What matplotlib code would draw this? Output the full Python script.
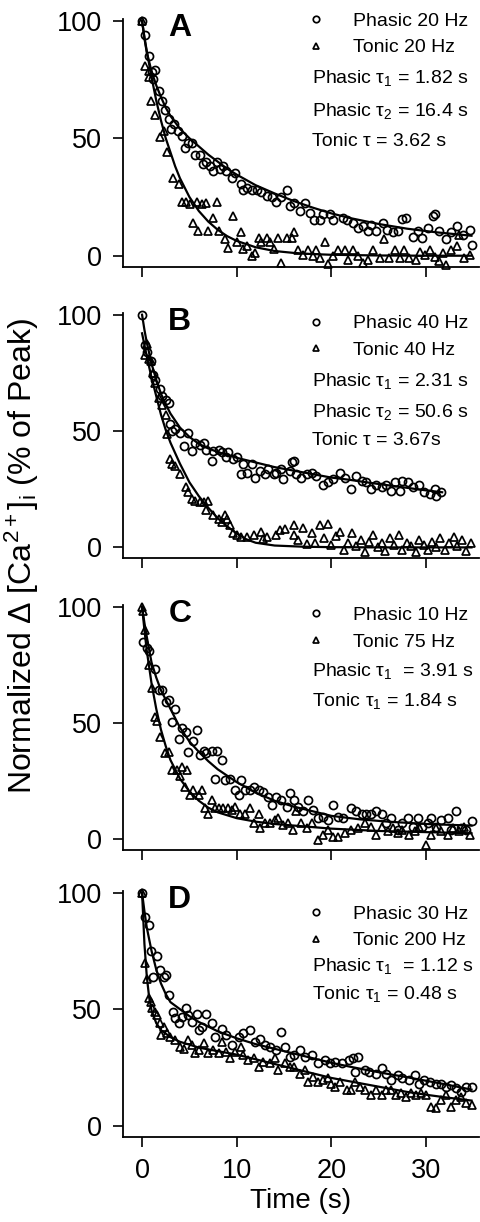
import matplotlib
matplotlib.use('Agg')
import matplotlib.pyplot as plt

plt.rcParams['font.family'] = ['Liberation Sans', 'DejaVu Sans']
plt.rcParams['mathtext.fontset'] = 'custom'
plt.rcParams['mathtext.rm'] = 'Liberation Sans'
plt.rcParams['mathtext.it'] = 'Liberation Sans:italic'
plt.rcParams['mathtext.bf'] = 'Liberation Sans:bold'

# ---------------- Panel A: phasic 20 Hz / tonic 20 Hz ----------------
phasic_t_A = [0, 0.35, 0.7, 1.0, 1.2, 1.4, 1.75, 2.1, 2.4, 2.8, 3.1, 3.4, 3.8, 4.2, 4.5, 4.9,
              5.3, 5.6, 6.1, 6.4, 6.8, 7.2, 7.5, 7.9, 8.2, 8.6, 8.9, 9.5, 9.8, 10.4, 10.7, 11.1,
              11.6, 12.1, 12.6, 13.2, 13.7, 14.2, 14.7, 15.3, 15.6, 16.1, 16.7, 17.2, 17.7, 18.2,
              18.8, 19.1, 19.8, 20.2, 21.2, 21.6, 22.3, 22.8, 23.3, 23.9, 24.2, 24.7, 25.4, 25.9,
              26.5, 27.0, 27.5, 27.9, 28.6, 29.1, 29.6, 30.2, 30.7, 30.9, 31.4, 32.1, 32.6, 33.3,
              33.9, 34.6, 34.8]
phasic_y_A = [100, 94, 85, 78, 75, 79, 70, 66, 62, 58, 54, 56, 53, 51, 46, 48,
              48, 43, 43, 39, 40, 38, 36, 40, 37, 38, 36, 33, 35, 30.5, 28, 29,
              28, 28, 27, 25.5, 25, 23, 25, 28, 21, 22.6, 19, 22.6, 18, 15,
              15, 17.6, 17.6, 15, 16, 15, 14, 12, 12.6, 10.5, 13, 10.5, 14, 11,
              10, 10.5, 15.5, 16, 8, 10.5, 7.6, 12, 17, 17.6, 10.5, 7, 10, 12.6,
              9, 11, 4.7]
tonic_t_A = [0, 0.35, 0.7, 0.75, 0.9, 1.4, 1.9, 2.3, 2.6, 3.3, 3.9, 4.2, 4.6, 5.1, 5.4, 5.8,
             5.9, 6.3, 6.8, 7.0, 7.5, 7.9, 8.1, 8.8, 9.1, 9.65, 10.0, 10.5, 10.7, 11.1, 11.6,
             11.9, 12.3, 12.6, 13.2, 13.5, 13.9, 14.4, 14.7, 15.3, 15.8, 16.1, 16.5, 17.0, 17.5,
             18.1, 18.4, 18.8, 19.3, 19.6, 20.2, 20.7, 21.4, 21.8, 22.3, 22.8, 23.3, 23.9, 24.4,
             25.1, 25.6, 26.1, 26.7, 27.2, 27.7, 28.2, 28.9, 29.4, 29.9, 30.4, 30.9, 31.4, 31.8,
             32.1, 32.6, 33.3, 33.5, 34.0, 34.6]
tonic_y_A = [100, 80.6, 78.5, 76, 66, 60, 50.6, 53, 44, 33, 30.5, 23, 23, 22, 14, 23,
             10.5, 22, 22.6, 10.5, 16, 23, 10.5, 7, 3.3, 17, 6, 10, 3, 4, 0,
             1, 7.6, 6, 7.6, 6, 3, 7.6, -3, 7.6, 7.6, 10, 2.6, 0.4, 2.6,
             -0.3, 2.6, -1, 6, -3.5, 0, 2.6, 2.6, -1.7, 2.6, 0, -3, -1.7, 2.6,
             -1, 7, -1, 2.6, -1, 2.6, -1, -1.7, 1.5, 0.5, 2.6, -0.5, -2.4, 1,
             -4, 2.6, 4, 9, -1, 0.5]
fitP_t_A = [0, 0.25, 0.5, 1, 1.5, 2, 2.5, 3, 4, 5, 6, 7, 8, 9, 10, 12, 14, 16, 18, 20, 22, 25, 28, 31, 34.8]
fitP_y_A = [100, 92.5, 86.5, 78.5, 72.5, 67.5, 63, 59.5, 54, 50, 46.5, 43, 40, 37, 34.5, 30, 26.5,
            23.3, 20.5, 18, 16, 13.5, 11.5, 10, 8.5]
fitT_t_A = [0, 0.25, 0.5, 1, 1.5, 2, 2.5, 3, 3.5, 4, 5, 6, 7, 8, 9, 10, 12, 14, 16, 18, 20, 25, 30, 34.8]
fitT_y_A = [100, 93, 87, 76, 66, 57.5, 50, 44, 38, 33, 25, 19, 14.5, 11, 8.3, 6.3, 3.6, 2, 1.2, 0.7,
            0.4, 0.1, 0, 0]

# ---------------- Panel B: phasic 40 Hz / tonic 40 Hz ----------------
phasic_t_B = [0, 0.35, 0.5, 0.9, 1.2, 1.4, 1.9, 2.1, 2.5, 2.8, 3.0, 3.2, 3.5, 4.0, 4.4, 4.9,
              5.3, 5.6, 6.1, 6.5, 6.8, 7.4, 7.5, 8.1, 8.4, 8.9, 9.1, 9.6, 10.0, 10.4, 10.7, 11.1,
              11.6, 11.9, 12.5, 13.0, 13.3, 13.9, 14.2, 14.7, 14.9, 15.6, 15.8, 16.1, 16.3, 16.8,
              17.4, 17.9, 18.4, 19.1, 19.6, 20.2, 20.9, 21.4, 22.1, 22.6, 23.2, 23.7, 24.2, 24.7,
              25.3, 25.8, 26.3, 26.7, 27.2, 27.5, 28.1, 28.6, 29.3, 29.8, 30.4, 30.9, 31.1, 31.6]
phasic_y_B = [100, 87, 84, 80, 74, 72, 68, 65, 63.5, 62, 53, 50, 51, 49, 43.6, 49,
              41.5, 45, 44, 45, 42, 37, 41.5, 42, 40.8, 39, 40.8, 38, 39, 31.5, 35.8, 32,
              35.8, 30, 33, 31.5, 33.7, 31.5, 32, 33.7, 29.4, 33, 36.5, 37, 31.5, 30,
              31.5, 32, 30.8, 26.6, 28, 29.4, 32, 30, 25, 30.8, 28.7, 28, 25, 26.6,
              25.8, 27, 24.4, 28, 24.4, 28.7, 28, 25.8, 26.6, 23.7, 23, 25, 22.3, 23.7]
tonic_t_B = [0.35, 0.5, 0.7, 0.9, 1.2, 1.4, 1.8, 2.1, 2.5, 2.6, 3.0, 3.2, 3.5, 4.0, 4.6, 4.9,
             5.3, 5.6, 6.1, 6.5, 7.0, 6.8, 7.5, 8.1, 8.4, 8.8, 9.0, 9.3, 9.6, 10.0, 10.4, 11.1,
             11.8, 12.6, 12.8, 13.2, 14.2, 14.6, 15.1, 16.0, 16.1, 16.5, 17.0, 17.4, 17.9, 18.3,
             18.8, 19.2, 19.6, 20.0, 20.5, 20.9, 21.3, 21.8, 22.2, 22.6, 23.1, 23.5, 24.0, 24.4,
             24.9, 25.3, 25.7, 26.2, 26.6, 27.1, 27.5, 28.0, 28.4, 28.9, 29.3, 29.8, 30.2, 30.6,
             31.1, 31.5, 32.0, 32.4, 32.9, 33.3, 33.8, 34.2, 34.7]
tonic_y_B = [82.7, 87.6, 81, 80, 75, 70.6, 64, 61, 57, 48.6, 38, 35.8, 35, 31.5, 25.8, 23.7,
             21, 20, 19.5, 19.5, 20, 16, 13.8, 12.4, 11, 13.8, 12.4, 9.5, 6, 5.3, 4.5, 4.5,
             5.3, 6.7, 3.8, 4.5, 5.3, 7.4, 8, 5.3, 9.5, 3, 8.5, 1.5, 6, 2,
             9.5, 4, 10, 1, 5, 6.5, -1, 2, 6, 0.5, 3, -2, 2.5, 5.5,
             0, 2, -1.5, 4, 1, 5.5, -1, 2, 0.5, -2, 3, 1, -1, 2.5,
             0, 4, -1, 2, 4.5, 0.5, 3, -1.5, 2]
fitP_t_B = [0, 0.25, 0.5, 1, 1.5, 2, 2.5, 3, 4, 5, 6, 7, 8, 10, 12, 14, 16, 18, 20, 22, 24, 26, 28, 30, 31.7]
fitP_y_B = [100, 93.5, 88, 79, 72, 66, 61.5, 57.5, 51.5, 47.5, 44.5, 42.5, 41, 38.5, 36.5, 34.5, 33,
            31.5, 30, 29, 27.8, 26.7, 25.6, 24.5, 23.7]
fitT_t_B = [0, 0.25, 0.5, 1, 1.5, 2, 2.5, 3, 4, 5, 6, 7, 8, 9, 10, 11, 12, 14, 17, 20, 25, 34.8]
fitT_y_B = [92, 87, 82, 73, 65, 57, 50.5, 45, 36, 28, 22, 17, 12.5, 9, 6, 3.5, 2, 0.8, 0.3, 0.1, 0, 0]

# ---------------- Panel C: phasic 10 Hz / tonic 75 Hz ----------------
phasic_t_C = [0.1, 0.5, 0.7, 1.4, 1.75, 2.1, 2.5, 2.8, 3.2, 3.5, 3.9, 4.2, 4.6, 4.9, 5.4, 5.8,
              6.1, 6.5, 6.8, 7.4, 7.9, 7.7, 8.4, 8.8, 9.3, 9.8, 10.2, 10.5, 10.9, 11.4, 11.8, 12.3,
              12.8, 13.3, 13.7, 14.2, 14.7, 15.3, 15.6, 16.1, 16.5, 17.0, 17.5, 18.1, 18.6, 19.1,
              19.6, 20.2, 20.7, 21.2, 22.1, 22.6, 23.2, 23.7, 24.2, 24.7, 25.3, 25.8, 26.3, 27.0,
              27.5, 28.1, 28.6, 29.1, 29.6, 30.2, 30.5, 31.0, 31.6, 32.3, 32.6, 33.2, 33.7, 34.2, 34.9]
phasic_y_C = [85, 82, 81, 73, 64, 64, 59, 60, 50.4, 56, 43, 48, 46, 37.6, 42, 47,
              36, 38, 37, 38, 38, 26, 34, 25.4, 26, 21, 19, 25.4, 21, 21, 22.6, 21,
              20.4, 18.3, 14.7, 18.3, 17, 14, 19.7, 17, 14, 12, 17, 12.6, 9, 9.7,
              8.3, 14.7, 9.7, 9, 13.3, 12, 11, 11, 11, 12, 11, 6.9, 9, 4,
              6.9, 9, 5.4, 9, 5.4, 6.9, 9, 5.4, 8.3, 9, 4, 12, 4.7, 4, 7.6]
tonic_t_C = [0, 0.1, 0.35, 0.7, 1.05, 1.4, 1.6, 1.9, 2.4, 2.8, 3.2, 3.7, 4.0, 4.2, 4.5, 4.7,
             5.1, 5.4, 6.0, 6.3, 6.7, 7.0, 7.4, 7.7, 8.1, 8.6, 9.1, 9.5, 9.8, 10.3, 10.9, 11.4,
             11.8, 12.3, 12.5, 13.0, 13.5, 14.0, 14.4, 14.9, 15.4, 15.9, 16.3, 16.8, 17.4, 17.9,
             18.6, 19.1, 19.6, 20.2, 20.7, 21.4, 22.1, 22.8, 23.5, 24.2, 24.7, 25.3, 26.0, 26.5,
             27.0, 27.5, 28.2, 28.8, 29.3, 30.0, 30.5, 31.0, 31.6, 32.3, 32.8, 33.5, 34.0, 34.6]
tonic_y_C = [100, 98, 90, 75, 65, 52.6, 51, 44, 37, 37.6, 29.7, 29.7, 27, 31, 22.6, 29.7,
             19, 21, 19, 21, 13.3, 11, 17, 13.3, 13.3, 13.3, 13.3, 12.6, 14, 11, 11, 13.3,
             6.9, 11, 4.7, 6.9, 6.9, 8.3, 9, 6, 6.9, 4, 12, 6.9, 4.7, 6.9,
             -0.3, 1.9, 4, 1.1, 1.1, 2.6, 4, 4.7, 6.9, 5.4, 1.9, 5.4, 3.3, 4.7,
             2.6, 4, 1.9, 3.3, 5.4, -2.4, 1.9, 4.7, 3.3, 1.9, 4.7, 3.3, 5.4, 1.9]
fitP_t_C = [0, 0.25, 0.5, 1, 1.5, 2, 3, 4, 5, 6, 7, 8, 10, 12, 14, 16, 18, 20, 23, 26, 30, 34.8]
fitP_y_C = [100, 93, 87, 76, 69.5, 64, 56, 48, 42, 37.5, 33.5, 30, 24.5, 20, 16.5, 14, 12, 10, 8.5,
            7.5, 6.5, 5.8]
fitT_t_C = [0, 0.25, 0.5, 1, 1.5, 2, 2.5, 3, 4, 5, 6, 7, 8, 10, 12, 14, 17, 20, 25, 30, 34.8]
fitT_y_C = [100, 90, 81, 67, 56, 47, 40, 34, 26, 20.5, 16.5, 13.5, 11.5, 9, 7.5, 6.5, 5.5, 4.5, 3.5, 3, 2.5]

# ---------------- Panel D: phasic 30 Hz / tonic 200 Hz ----------------
phasic_t_D = [0, 0.35, 0.7, 0.9, 1.2, 1.6, 1.9, 2.3, 2.5, 2.8, 3.3, 3.5, 3.9, 4.2, 4.6, 4.9,
              5.3, 5.8, 6.0, 6.3, 6.8, 7.4, 7.7, 8.4, 8.9, 9.5, 10.2, 10.7, 11.4, 11.9, 12.5, 13.0,
              13.5, 14.2, 14.7, 15.1, 15.6, 16.1, 16.7, 17.2, 17.9, 18.6, 19.3, 19.8, 20.4, 21.1,
              21.9, 22.3, 22.8, 22.5, 23.5, 24.0, 24.7, 25.3, 25.8, 26.3, 27.0, 27.5, 28.2, 28.8,
              29.3, 29.8, 30.4, 31.0, 31.6, 32.1, 32.6, 33.2, 33.7, 34.2, 34.9]
phasic_y_D = [100, 89.6, 86, 75, 64, 73, 66.7, 64, 64.6, 56, 49, 46, 43.9, 46.7, 50.3, 47.4,
              44.6, 48, 41, 42.4, 48, 43.9, 38, 41.7, 38.9, 34.6, 38, 39.6, 41, 36, 37.4, 34.6,
              33.9, 32.4, 40.3, 33.9, 29.6, 30.3, 32.4, 29.6, 30.3, 26.7, 28.1, 26.7, 27.4, 26.7,
              28.1, 28.9, 29.6, 23, 23.9, 23, 22.4, 24.6, 22.4, 19.6, 21.7, 20.3, 19.6, 21.7,
              18.1, 19.6, 18.9, 18.1, 18.1, 16.7, 17.4, 16, 14.6, 16.7, 16.7]
tonic_t_D = [0, 0.3, 0.5, 0.7, 0.9, 1.05, 1.4, 1.6, 1.9, 1.95, 2.3, 2.6, 3.0, 3.5, 4.0, 4.4,
             4.9, 5.3, 5.6, 6.0, 6.5, 7.0, 7.5, 8.1, 8.4, 8.9, 9.3, 9.8, 10.4, 10.7, 11.2, 11.8,
             12.3, 12.8, 13.5, 14.0, 14.4, 15.1, 15.6, 16.1, 16.7, 17.2, 17.5, 18.1, 18.6, 19.1,
             19.6, 20.0, 20.4, 20.9, 21.6, 22.1, 22.5, 23.0, 23.5, 24.2, 24.7, 25.3, 25.8, 26.3,
             26.8, 27.4, 27.9, 28.4, 28.9, 29.5, 30.0, 30.5, 31.1, 31.6, 32.1, 32.6, 33.2, 33.7,
             34.2, 34.9]
tonic_y_D = [100, 69.6, 63, 54.6, 53, 50.3, 49, 47.4, 43.9, 38.9, 42.4, 39.6, 38, 36.7, 33.9, 33,
             36.7, 34.6, 31, 32.4, 35.3, 31, 32.4, 31, 36, 31.7, 28.9, 31.7, 33.9, 30.3, 28.1, 28.9,
             25.3, 27.4, 26.7, 28.9, 23.9, 26.7, 25.3, 25.3, 22.4, 23.9, 18.9, 21, 18.9, 19.6,
             20.3, 18.1, 16.7, 18.9, 15.3, 15.3, 18.9, 16.7, 15.3, 13.1, 15.3, 13.1, 15.3, 15.3,
             13.1, 13.9, 12.4, 13.9, 13.1, 13.9, 13.1, 8.1, 7.4, 11, 13.1, 8.1, 11, 12.4,
             9.6, 8.9]
fitP_t_D = [0, 0.25, 0.5, 1, 1.5, 2, 2.5, 3, 4, 5, 6, 8, 10, 12, 14, 16, 18, 20, 22, 24, 26, 28, 30, 32, 34.8]
fitP_y_D = [100, 92, 85, 75, 67, 61, 56.5, 53, 50, 47, 44.5, 40.5, 37.5, 35, 33, 31, 29, 27, 25.3,
            23.7, 22.2, 20.8, 19.3, 17.8, 15.5]
fitT_t_D = [0, 0.25, 0.5, 0.75, 1, 1.5, 2, 3, 4, 5, 6, 8, 10, 12, 14, 16, 18, 20, 22, 24, 26, 28, 30, 32, 34.8]
fitT_y_D = [100, 78, 64, 55, 49.5, 44, 41, 38, 36, 34.8, 33.5, 32, 30.5, 28.5, 26.5, 24.5, 22.5, 20.5,
            19, 17.5, 16, 14.5, 13.3, 12.2, 10.8]

panel_letters = ['A', 'B', 'C', 'D']
legend_labels = [('Phasic 20 Hz', 'Tonic 20 Hz'),
                 ('Phasic 40 Hz', 'Tonic 40 Hz'),
                 ('Phasic 10 Hz', 'Tonic 75 Hz'),
                 ('Phasic 30 Hz', 'Tonic 200 Hz')]
tau_texts = [[r'Phasic τ$_1$ = 1.82 s', r'Phasic τ$_2$ = 16.4 s', 'Tonic τ = 3.62 s'],
             [r'Phasic τ$_1$ = 2.31 s', r'Phasic τ$_2$ = 50.6 s', 'Tonic τ = 3.67s'],
             [r'Phasic τ$_1$  = 3.91 s', r'Tonic τ$_1$ = 1.84 s'],
             [r'Phasic τ$_1$  = 1.12 s', r'Tonic τ$_1$ = 0.48 s']]
x_ticks = [0, 10, 20, 30]
y_ticks = [0, 50, 100]

panels = [
    (phasic_t_A, phasic_y_A, tonic_t_A, tonic_y_A, fitP_t_A, fitP_y_A, fitT_t_A, fitT_y_A),
    (phasic_t_B, phasic_y_B, tonic_t_B, tonic_y_B, fitP_t_B, fitP_y_B, fitT_t_B, fitT_y_B),
    (phasic_t_C, phasic_y_C, tonic_t_C, tonic_y_C, fitP_t_C, fitP_y_C, fitT_t_C, fitT_y_C),
    (phasic_t_D, phasic_y_D, tonic_t_D, tonic_y_D, fitP_t_D, fitP_y_D, fitT_t_D, fitT_y_D),
]

# axes rectangles (figure fractions)
rects = [[0.255, 0.7817, 0.741, 0.2027],
         [0.255, 0.5431, 0.741, 0.2007],
         [0.255, 0.3044, 0.741, 0.2005],
         [0.255, 0.0698, 0.741, 0.2011]]
# y position of legend top and of the tau lines per panel
legend_top = [103.5, 100.0, 100.0, 94.5]
tau_rows = [[75.7, 61.5, 48.7],
            [71.5, 58.3, 46.0],
            [72.5, 59.5],
            [68.5, 56.5]]

fig = plt.figure(figsize=(4.81, 12.22), dpi=100)

for i in range(4):
    pt, py, tt, ty, fpt, fpy, ftt, fty = panels[i]
    ax = fig.add_axes(rects[i])
    ax.plot(fpt, fpy, '-', color='black', lw=1.6, zorder=2)
    ax.plot(ftt, fty, '-', color='black', lw=1.6, zorder=2)
    hp, = ax.plot(pt, py, 'o', ms=5.8, mfc='none', mec='black', mew=1.25, ls='none',
                  zorder=3, clip_on=False)
    ht, = ax.plot(tt, ty, '^', ms=5.8, mfc='none', mec='black', mew=1.25, ls='none',
                  zorder=3, clip_on=False)

    ax.set_xlim(-2.05, 35.6)
    ax.set_ylim(-4.7, 100.7)
    ax.set_xticks(x_ticks)
    ax.set_yticks(y_ticks)
    for s in ['top', 'right']:
        ax.spines[s].set_visible(False)
    for s in ['left', 'bottom']:
        ax.spines[s].set_linewidth(1.3)
    ax.tick_params(direction='out', length=7, width=1.2, labelsize=19.5, pad=8)
    if i < 3:
        ax.tick_params(axis='x', labelbottom=False)

    ax.text(4.0, 97, panel_letters[i], fontsize=23, fontweight='bold',
            ha='center', va='center')

    leg = ax.legend([hp, ht], legend_labels[i], loc='upper left',
                    bbox_to_anchor=(17.3, legend_top[i]), bbox_transform=ax.transData,
                    frameon=False, fontsize=14, handlelength=1.0, handletextpad=1.4,
                    borderpad=0, borderaxespad=0, labelspacing=0.45, numpoints=1,
                    markerscale=0.8)

    for txt, yy in zip(tau_texts[i], tau_rows[i]):
        ax.text(18.0, yy, txt, fontsize=14, ha='left', va='center')

    if i == 3:
        ax.set_xlabel('Time (s)', fontsize=20, labelpad=3)

fig.text(0.045, 0.545, r'Normalized $\Delta$ [Ca$^{2+}$]$_\mathrm{i}$ (% of Peak)',
         rotation=90, fontsize=23, ha='center', va='center')

fig.savefig('out.png', dpi=100)
